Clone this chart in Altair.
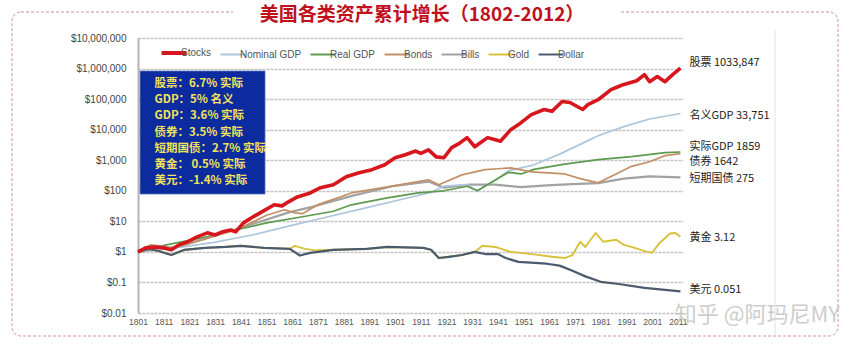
import altair as alt
import pandas as pd

# ---------------- data ----------------
series_names = ["Stocks", "Nominal GDP", "Real GDP", "Bonds", "Bills", "Gold", "Dollar"]
series_colors = ["#d7161d", "#adc6dc", "#5d9a4d", "#c39068", "#a2a2a2", "#d8c23c", "#4b5b6d"]

stocks_years = [1801, 1804, 1808, 1811, 1814, 1817, 1820, 1824, 1828, 1831, 1834, 1837, 1839,
                1842, 1845, 1849, 1854, 1857, 1859, 1863, 1868, 1872, 1877, 1882, 1887, 1892,
                1897, 1901, 1905, 1909, 1911, 1914, 1917, 1920, 1923, 1926, 1929, 1932, 1937,
                1940, 1942, 1946, 1950, 1954, 1959, 1962, 1966, 1969, 1974, 1976, 1980, 1985,
                1987, 1990, 1995, 1998, 2000, 2003, 2006, 2009, 2012]
stocks_vals = [1, 1.35, 1.45, 1.35, 1.17, 1.7, 2.1, 3.1, 4.2, 3.6, 4.6, 5.2, 4.5,
               8.9, 12.9, 20, 35, 32, 41, 63, 85, 126, 158, 288, 389, 490,
               708, 1202, 1514, 1995, 1660, 2188, 1288, 1202, 2570, 3548, 5495, 2754, 5495,
               4677, 4169, 10000, 16982, 30903, 45709, 39811, 83176, 77625, 45709, 66069, 95499, 204174,
               239883, 301995, 398107, 630957, 371535, 549541, 371535, 630957, 1033847]

ngdp_years = [1801, 1815, 1830, 1845, 1860, 1875, 1890, 1905, 1915, 1920, 1929, 1933, 1940,
              1945, 1955, 1965, 1975, 1980, 1990, 2000, 2012]
ngdp_vals = [1, 1.32, 2.0, 3.5, 7.1, 14.1, 28.2, 56, 89, 141, 158, 100, 224,
             447, 708, 1585, 3981, 6310, 12589, 22387, 33751]

rgdp_years = [1801, 1812, 1826, 1839, 1851, 1865, 1877, 1884, 1898, 1910, 1920, 1929, 1933,
              1941, 1945, 1950, 1955, 1967, 1980, 1993, 2006, 2012]
rgdp_vals = [1, 1.7, 2.9, 5.2, 8.9, 14.1, 21.4, 34.7, 58.9, 85.1, 100, 141, 100,
             251, 398, 355, 501, 741, 1047, 1318, 1778, 1859]

bonds_years = [1801, 1806, 1815, 1826, 1832, 1839, 1845, 1851, 1858, 1862, 1865, 1871, 1877,
               1884, 1898, 1910, 1914, 1918, 1927, 1936, 1941, 1946, 1954, 1967, 1973, 1980,
               1987, 1993, 2000, 2006, 2012]
bonds_vals = [1, 1.7, 1.35, 2.45, 3.6, 5.2, 8.9, 15.8, 24, 19, 17.8, 35.5, 52.5,
              85, 135, 200, 229, 158, 331, 490, 525, 562, 417, 355, 251, 182,
              355, 631, 891, 1413, 1642]

bills_years = [1801, 1815, 1830, 1845, 1860, 1870, 1885, 1900, 1914, 1920, 1930, 1940, 1950,
               1960, 1970, 1980, 1990, 2000, 2012]
bills_vals = [1, 1.41, 3.16, 7.9, 20, 31.6, 70.8, 141, 200, 126, 158, 158, 132,
              151, 166, 178, 251, 295, 275]

gold_years = [1801, 1805, 1809, 1814, 1819, 1827, 1835, 1841, 1850, 1860, 1862, 1866, 1870,
              1877, 1890, 1898, 1912, 1915, 1918, 1922, 1927, 1932, 1935, 1940, 1946, 1955,
              1962, 1967, 1970, 1973, 1975, 1979, 1982, 1987, 1990, 1993, 1999, 2001, 2004,
              2008, 2010, 2012]
gold_vals = [1, 1.26, 1.07, 0.79, 1.17, 1.35, 1.45, 1.58, 1.35, 1.26, 1.58, 1.26, 1.12,
             1.17, 1.26, 1.45, 1.35, 1.17, 0.63, 0.69, 0.79, 1.0, 1.58, 1.45, 1.0, 0.83,
             0.69, 0.63, 0.79, 2.14, 1.45, 4.17, 2.14, 2.5, 1.7, 1.45, 1.0, 0.95, 2.0,
             3.98, 4.17, 3.12]

dollar_years = [1801, 1805, 1809, 1814, 1819, 1827, 1835, 1841, 1850, 1860, 1864, 1868, 1877,
                1890, 1898, 1912, 1915, 1918, 1922, 1927, 1932, 1936, 1941, 1944, 1949, 1960,
                1965, 1970, 1975, 1981, 1988, 1998, 2012]
dollar_vals = [1, 1.26, 1.07, 0.79, 1.17, 1.35, 1.45, 1.58, 1.35, 1.26, 0.76, 0.93, 1.17,
               1.26, 1.45, 1.35, 1.17, 0.63, 0.69, 0.79, 1.0, 0.85, 0.85, 0.63, 0.47, 0.41,
               0.355, 0.24, 0.158, 0.105, 0.089, 0.066, 0.051]

x_ticks = [1801, 1811, 1821, 1831, 1841, 1851, 1861, 1871, 1881, 1891, 1901, 1911,
           1921, 1931, 1941, 1951, 1961, 1971, 1981, 1991, 2001, 2011]
y_ticks = [0.01, 0.1, 1, 10, 100, 1000, 10000, 100000, 1000000, 10000000]

end_labels = ["股票  1033,847", "名义GDP 33,751", "实际GDP 1859", "债券  1642",
              "短期国债 275", "黄金  3.12", "美元  0.051"]
end_label_values = [1.5e6, 28000, 2710, 875, 243, 2.85, 0.0565]

box_lines = ["股票：6.7%  实际", "GDP：5%  名义", "GDP：3.6% 实际", "债券：3.5% 实际",
             "短期国债：2.7% 实际", "黄金：  0.5% 实际", "美元：-1.4% 实际"]
box_x = [1801.8, 1850.4]
box_y = [8.3e5, 78.5]
box_text_anchor = [1807.4, 4.9e5]

title_text = "美国各类资产累计增长（1802-2012）"
watermark = "知乎 @阿玛尼MY"

# ---------------- build table ----------------
all_series = [
    ("Stocks", stocks_years, stocks_vals),
    ("Nominal GDP", ngdp_years, ngdp_vals),
    ("Real GDP", rgdp_years, rgdp_vals),
    ("Bonds", bonds_years, bonds_vals),
    ("Bills", bills_years, bills_vals),
    ("Gold", gold_years, gold_vals),
    ("Dollar", dollar_years, dollar_vals),
]
rows = []
for name, ys, vs in all_series:
    for y, v in zip(ys, vs):
        rows.append({"series": name, "year": y, "value": v})
df = pd.DataFrame(rows)

x_scale = alt.Scale(domain=[1801, 2013], nice=False, zero=False)
y_scale = alt.Scale(type="log", domain=[0.01, 1e7], nice=False)

x_axis = alt.Axis(values=x_ticks, format="d", title=None, grid=False, ticks=False,
                  domain=False, labelFontSize=8.5, labelColor="#555",
                  labelFont="Liberation Sans", labelPadding=4,
                  labelOverlap=False, labelBound=False, labelFlush=False)
y_axis = alt.Axis(values=y_ticks, title=None,
                  labelExpr="'$' + format(datum.value, ',')",
                  gridColor="#c2c2c2", gridDash=[3, 1], gridWidth=1.6,
                  domainColor="#b4b4b4", domainWidth=2, ticks=False,
                  labelPadding=12, labelFontSize=10, labelColor="#444",
                  labelFont="Liberation Sans", labelOverlap=False)


def xq(field):
    return alt.X(field, type="quantitative", scale=x_scale, axis=x_axis)


def yq(field):
    return alt.Y(field, type="quantitative", scale=y_scale, axis=y_axis)


color_enc = alt.Color(
    "series:N",
    scale=alt.Scale(domain=series_names, range=series_colors),
    legend=alt.Legend(title=None, orient="none", legendX=31, legendY=10,
                      direction="horizontal", columns=7,
                      symbolType="stroke", symbolSize=620,
                      symbolStrokeWidth=alt.ExprRef("datum.value == 'Stocks' ? 4 : 2"),
                      labelFontSize=10,
                      labelColor="#555", labelFont="Liberation Sans",
                      columnPadding=4, labelOffset=2, padding=0))

widths = {"Stocks": 3.6, "Nominal GDP": 1.7, "Real GDP": 1.7, "Bonds": 1.7,
          "Bills": 2.2, "Gold": 1.9, "Dollar": 2.2}
draw_order = ["Bills", "Nominal GDP", "Real GDP", "Bonds", "Gold", "Dollar", "Stocks"]

one = pd.DataFrame({"k": [0]})

frame = alt.Chart(one).mark_rect(fill=None, stroke="#d39393", strokeDash=[3, 2],
                                 strokeWidth=1, cornerRadius=9).encode(
    x=alt.value(-126), x2=alt.value(700), y=alt.value(-26), y2=alt.value(298))
mask = alt.Chart(one).mark_rect(fill="white").encode(
    x=alt.value(95), x2=alt.value(482), y=alt.value(-32), y2=alt.value(-20))
right_rule = alt.Chart(one).mark_rule(color="#e2e2e2", strokeWidth=1).encode(
    x=alt.value(637), y=alt.value(-8), y2=alt.value(298))
title = alt.Chart(one).mark_text(text=title_text, font="Noto Sans CJK SC", fontSize=19,
                                 fontWeight="bold", color="#c0101c", align="center",
                                 baseline="middle").encode(x=alt.value(284), y=alt.value(-23))

lines = [
    alt.Chart(df).transform_filter(alt.datum.series == s).mark_line(
        strokeWidth=widths[s], strokeJoin="round").encode(
        x=xq("year"), y=yq("value"), color=color_enc)
    for s in draw_order
]

box_df = pd.DataFrame({"year": [box_x[0]], "x2": [box_x[1]], "value": [box_y[0]], "y2": [box_y[1]]})
box = alt.Chart(box_df).mark_rect(fill="#0c2b9f", stroke="#5a6fb8", strokeWidth=0.8).encode(
    x=xq("year"), x2="x2:Q", y=yq("value"), y2="y2:Q")
box_txt_df = pd.DataFrame({"year": [box_text_anchor[0]], "value": [box_text_anchor[1]]})
box_text = alt.Chart(box_txt_df).mark_text(
    text=box_lines, lineHeight=16.2, align="left", baseline="top", fontSize=11.5,
    fontWeight="bold", font="Noto Sans CJK SC", color="#f1e25a").encode(
    x=xq("year"), y=yq("value"))

lab_df = pd.DataFrame({"label": end_labels, "value": end_label_values,
                       "year": [2012] * len(end_labels)})
labels = alt.Chart(lab_df).mark_text(align="left", baseline="middle", dx=9, fontSize=11,
                                     font="Noto Sans CJK SC", color="#222").encode(
    x=xq("year"), y=yq("value"), text="label:N")

wm = alt.Chart(one).mark_text(text=watermark, font="Noto Sans CJK SC", fontSize=22,
                              color="#bdbdbd", opacity=0.75, align="right",
                              baseline="middle").encode(x=alt.value(702), y=alt.value(277))

chart = alt.layer(frame, mask, right_rule, *lines, box, box_text, labels, title, wm).properties(
    width=545, height=275,
    padding={"left": 138, "top": 38, "right": 174, "bottom": 33},
    autosize=alt.AutoSizeParams(type="none"),
    background="white",
).resolve_scale(x="shared", y="shared").configure_view(stroke=None)

chart.save("out.html", embed_options={"renderer": "svg", "actions": False})
